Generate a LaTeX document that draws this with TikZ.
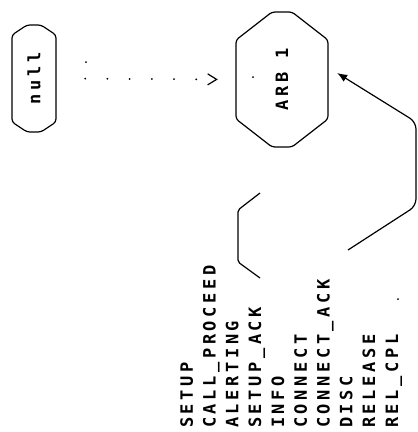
\documentclass[tikz,border=0pt]{standalone}
\usepackage{fontspec}
\newfontfamily\plotfont{DejaVu Sans Mono}[LetterSpace=21]
\usetikzlibrary{positioning,arrows.meta,calc}
\tikzset{
    % State boxes
    state/.style={rectangle, rotate=90, inner sep=0pt,
                  font=\plotfont\bfseries\fontsize{17}{22.8}\selectfont},
    state line/.style={line width=1.2pt, rounded corners=3pt},
    % Message list
    msg list/.style={rotate=90, align=left, inner sep=0pt,
                     font=\plotfont\bfseries\fontsize{17}{22.8}\selectfont},
    % Arrow styles
    signal arrow/.style={-{Latex[length=10pt,width=8pt]}, line width=1.2pt, rounded corners=7pt},
    spont arrow/.style={-{Straight Barb[length=9pt,width=11pt,line width=1.2pt]},
                        line width=2pt, line cap=round, dash pattern=on 0.01pt off 22.2pt},
    speck/.style={fill=black},
}
% chamfered outline round a state: node, half width, half height, chamfer x, chamfer y
\newcommand\stateoutline[5]{%
    \draw[state line] ($(#1)+(-#2,{-#3+#5})$) -- ($(#1)+({-#2+#4},-#3)$)
        -- ($(#1)+({#2-#4},-#3)$) -- ($(#1)+(#2,{-#3+#5})$)
        -- ($(#1)+(#2,{#3-#5})$) -- ($(#1)+({#2-#4},#3)$)
        -- ($(#1)+({-#2+#4},#3)$) -- ($(#1)+(-#2,{#3-#5})$) -- cycle;}

\begin{document}
\begin{tikzpicture}[x=1pt, y=-1pt]
    \useasboundingbox (0,0) rectangle (418,432);

    % States
    \node[state, minimum width=107pt, minimum height=44pt] (null) at (34,78.5) {null};
    \stateoutline{null}{22}{53.5}{15}{10}
    \node[state, minimum width=135pt, minimum height=92pt] (arb) at (282,79.5) {ARB 1};
    \stateoutline{arb}{46}{67.5}{36}{28}

    % Messages
    \node[msg list, anchor=base west] (msgs) at (398,428)
        {SETUP\\CALL\_PROCEED\\ALERTING\\SETUP\_ACK\\INFO\\CONNECT\\CONNECT\_ACK\\DISC\\RELEASE\\REL\_CPL};

    % Transitions
    \draw[spont arrow, shorten <=29pt, shorten >=18pt] (null.south) -- (arb.north);
    \coordinate (ackfoot) at (348,250);
    \draw[signal arrow] (ackfoot) -- (416,206) -- (416,122) -- ($(arb.south)+(9,-6.5)$);

    % Open bracket
    \draw[line width=1.2pt, rounded corners=2pt] (260,193) -- (238,210) -- (238,262) -- (260,278);

    % Specks
    \fill[speck] (86,62) circle (1pt);
    \fill[speck] (253,77) circle (1pt);
    \fill[speck] (398,299) circle (1pt);
\end{tikzpicture}
\end{document}
